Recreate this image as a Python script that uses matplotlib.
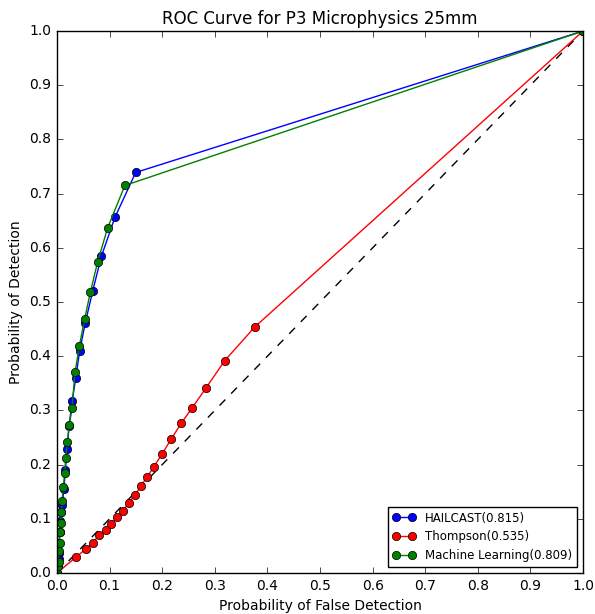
import matplotlib
matplotlib.use('agg')
import matplotlib.pyplot as plt

plt.style.use('classic')

# HAILCAST
hc_fpr = [0.0, 0.002, 0.003, 0.0035, 0.004, 0.005, 0.0065, 0.008, 0.010, 0.013,
          0.016, 0.019, 0.023, 0.029, 0.0355, 0.0431, 0.0539, 0.0678, 0.0843,
          0.110, 0.1496, 1.0]
hc_tpr = [0.0, 0.012, 0.025, 0.036, 0.055, 0.075, 0.095, 0.112, 0.125, 0.155,
          0.190, 0.228, 0.272, 0.318, 0.359, 0.410, 0.462, 0.520, 0.584,
          0.656, 0.739, 1.0]

# Thompson
th_fpr = [0.0, 0.037, 0.0545, 0.068, 0.080, 0.0925, 0.103, 0.114, 0.125, 0.136,
          0.148, 0.159, 0.172, 0.184, 0.200, 0.217, 0.236, 0.257, 0.283, 0.319,
          0.376, 1.0]
th_tpr = [0.0, 0.030, 0.044, 0.056, 0.0695, 0.079, 0.090, 0.103, 0.114, 0.129,
          0.143, 0.160, 0.178, 0.196, 0.220, 0.247, 0.276, 0.305, 0.341, 0.392,
          0.454, 1.0]

# Machine Learning
ml_fpr = [0.0, 0.002, 0.003, 0.0035, 0.005, 0.006, 0.007, 0.0082, 0.0095, 0.012,
          0.0146, 0.0165, 0.0196, 0.0234, 0.0285, 0.0342, 0.0425, 0.0526, 0.0634,
          0.0773, 0.0963, 0.129, 1.0]
ml_tpr = [0.0, 0.012, 0.020, 0.040, 0.055, 0.075, 0.092, 0.113, 0.132, 0.158,
          0.185, 0.212, 0.241, 0.273, 0.304, 0.370, 0.419, 0.469, 0.518,
          0.574, 0.637, 0.715, 1.0]

labels = ['HAILCAST(0.815)', 'Thompson(0.535)', 'Machine Learning(0.809)']

fig = plt.figure(figsize=(5.95, 6.14), dpi=100)
ax = fig.add_axes([0.0958, 0.0668, 0.8842, 0.8827])

ax.plot([0, 1], [0, 1], 'k--')
ax.plot(hc_fpr, hc_tpr, 'bo-', label=labels[0])
ax.plot(th_fpr, th_tpr, 'ro-', label=labels[1])
ax.plot(ml_fpr, ml_tpr, 'go-', label=labels[2])

ax.set_xlim(0, 1)
ax.set_ylim(0, 1)
ax.set_xticks([i / 10 for i in range(11)])
ax.set_yticks([i / 10 for i in range(11)])
ax.tick_params(labelsize=10)
ax.set_xlabel('Probability of False Detection', fontsize=10)
ax.set_ylabel('Probability of Detection', fontsize=10)
ax.set_title('ROC Curve for P3 Microphysics 25mm', fontsize=12)
ax.legend(loc=4, fontsize=8.5, numpoints=2)

plt.savefig('out.png', dpi=100)
plt.close()
